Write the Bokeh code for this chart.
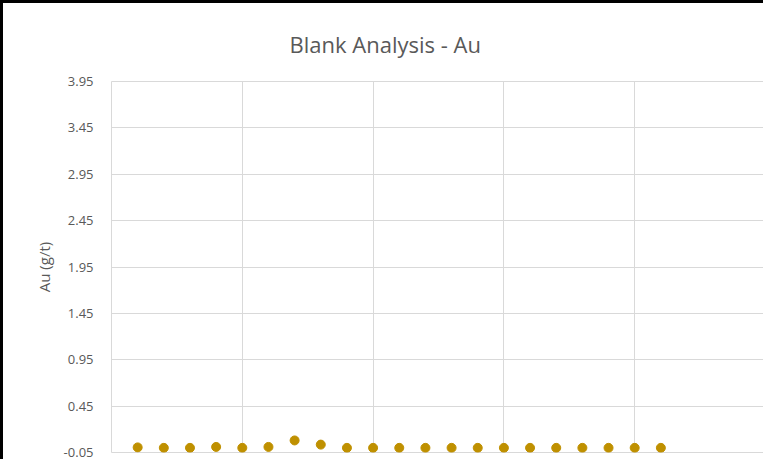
from bokeh.plotting import figure
from bokeh.models import FixedTicker, Range1d
from bokeh.embed import file_html
from bokeh.resources import INLINE

# Data
sample_no = [1, 2, 3, 4, 5, 6, 7, 8, 9, 10, 11, 12, 13, 14, 15, 16, 17, 18, 19, 20, 21]
au_gt = [0.005, 0.0, 0.0, 0.01, 0.0, 0.01, 0.08, 0.035, 0.0, 0.0, 0.0,
         0.0, 0.0, 0.0, 0.0, 0.0, 0.0, 0.0, 0.0, 0.0, 0.0]
y_ticks = [-0.05, 0.45, 0.95, 1.45, 1.95, 2.45, 2.95, 3.45, 3.95]
x_grid = [0, 5, 10, 15, 20, 25]

FONT = "Open Sans"
TXT = "#595959"
GRID = "#d9d9d9"

p = figure(width=763, height=459, output_backend="svg", toolbar_location=None,
           x_range=Range1d(0, 25), y_range=Range1d(-0.05, 3.95),
           min_border_left=108, min_border_right=1, min_border_top=77,
           min_border_bottom=10, title="Blank Analysis - Au",
           styles={"border-left": "3px solid black", "border-top": "3px solid black",
                   "box-sizing": "border-box"})

p.title.align = "left"
p.title.offset = 178
p.title.text_font = FONT
p.title.text_font_size = "22px"
p.title.text_font_style = "normal"
p.title.text_color = TXT
p.title.standoff = 46

p.outline_line_color = GRID
p.outline_line_width = 1
p.background_fill_color = "white"
p.border_fill_color = "white"

p.xaxis.visible = False
p.xgrid.ticker = FixedTicker(ticks=x_grid)
p.xgrid.grid_line_color = GRID
p.xgrid.grid_line_width = 1

p.yaxis.ticker = FixedTicker(ticks=y_ticks)
p.yaxis.major_label_overrides = {t: f"{t:.2f}" for t in y_ticks}
p.yaxis.axis_line_color = None
p.yaxis.major_tick_line_color = None
p.yaxis.minor_tick_line_color = None
p.yaxis.major_label_text_font = FONT
p.yaxis.major_label_text_font_size = "13px"
p.yaxis.major_label_text_color = TXT
p.yaxis.major_label_standoff = 12
p.yaxis.axis_label = "Au (g/t)"
p.yaxis.axis_label_text_font = FONT
p.yaxis.axis_label_text_font_size = "15px"
p.yaxis.axis_label_text_font_style = "normal"
p.yaxis.axis_label_text_color = TXT
p.yaxis.axis_label_standoff = 7
p.ygrid.grid_line_color = GRID

p.scatter(sample_no, au_gt, size=9, color="#BF9000", line_color="#BF9000")

open("out.html", "w").write(file_html(p, INLINE))
